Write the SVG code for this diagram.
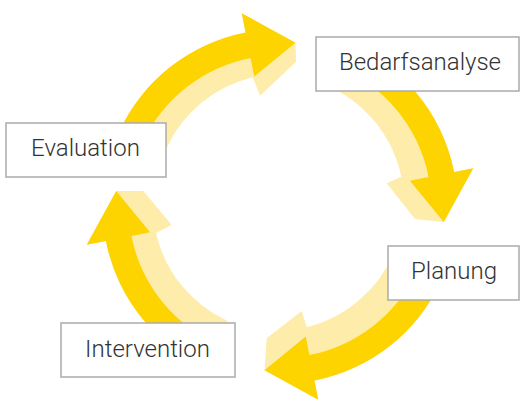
<svg xmlns="http://www.w3.org/2000/svg" width="520" height="399" viewBox="0 0 520 399">
<style>
.lt{fill:#FEECAA}
.dk{fill:#FDD300}
.box rect{fill:#fff;stroke:#ababab;stroke-width:1.5}
.box text{font-family:Roboto,"Liberation Sans",sans-serif;font-weight:300;font-size:24px;fill:#333;text-anchor:middle}
</style>
<g id="connectors">
<g id="arrow-evaluation-bedarfsanalyse">
<path class="lt" d="M119.13,131.49 A177.5,177.5 0 0 1 245.52,32.38 L241.74,13.25 L295.48,42.73 L296,61.7 L260,95.7 L252.67,77.14 A128,128 0 0 0 167.5,146 L152.3,170 Z"/>
<path class="dk" d="M119.13,131.49 A177.5,177.5 0 0 1 245.52,32.38 L241.74,13.25 L295.48,42.73 L254.26,76.52 L250.57,57.88 A151.5,151.5 0 0 0 142.69,142.47 Z"/>
</g>
<g id="arrow-bedarfsanalyse-planung">
<path class="lt" d="M340.71,39.70 A177.5,177.5 0 0 1 454.12,172.02 L473.25,168.24 L443.77,221.98 L415,219 L386.7,183.3 L401.3,176.82 A128,128 0 0 0 325.6,85 Z"/>
<path class="dk" d="M340.71,39.70 A177.5,177.5 0 0 1 454.12,172.02 L473.25,168.24 L443.77,221.98 L409.98,180.76 L428.62,177.07 A151.5,151.5 0 0 0 331.82,64.14 Z"/>
</g>
<g id="arrow-planung-intervention">
<path class="lt" d="M440.87,281.52 A177.5,177.5 0 0 1 314.48,380.62 L318.26,399.75 L264.52,370.27 L266.7,338.3 L301.7,311 L306.75,327.25 A128,128 0 0 0 395,250.1 Z"/>
<path class="dk" d="M440.87,281.52 A177.5,177.5 0 0 1 314.48,380.62 L318.26,399.75 L264.52,370.27 L305.74,336.48 L309.43,355.12 A151.5,151.5 0 0 0 417.31,270.53 Z"/>
</g>
<g id="arrow-intervention-evaluation">
<path class="lt" d="M213.51,371.07 A177.5,177.5 0 0 1 105.88,240.98 L86.75,244.76 L116.23,191.02 L143.3,191 L171.7,225 L156,233 A128,128 0 0 0 227.5,321 L227,335 Z"/>
<path class="dk" d="M213.51,371.07 A177.5,177.5 0 0 1 105.88,240.98 L86.75,244.76 L116.23,191.02 L150.02,232.24 L131.38,235.93 A151.5,151.5 0 0 0 223.25,346.97 Z"/>
</g>
</g>
<g id="node-bedarfsanalyse" class="box">
<rect x="316" y="37" width="203" height="54"/>
<text x="420" y="69.5">Bedarfsanalyse</text>
</g>
<g id="node-planung" class="box">
<rect x="388" y="246" width="131" height="54"/>
<text x="454" y="279">Planung</text>
</g>
<g id="node-intervention" class="box">
<rect x="61" y="323" width="174" height="54"/>
<text x="147.5" y="356.7">Intervention</text>
</g>
<g id="node-evaluation" class="box">
<rect x="6" y="123" width="160" height="54"/>
<text x="85.5" y="155.7">Evaluation</text>
</g>
</svg>
